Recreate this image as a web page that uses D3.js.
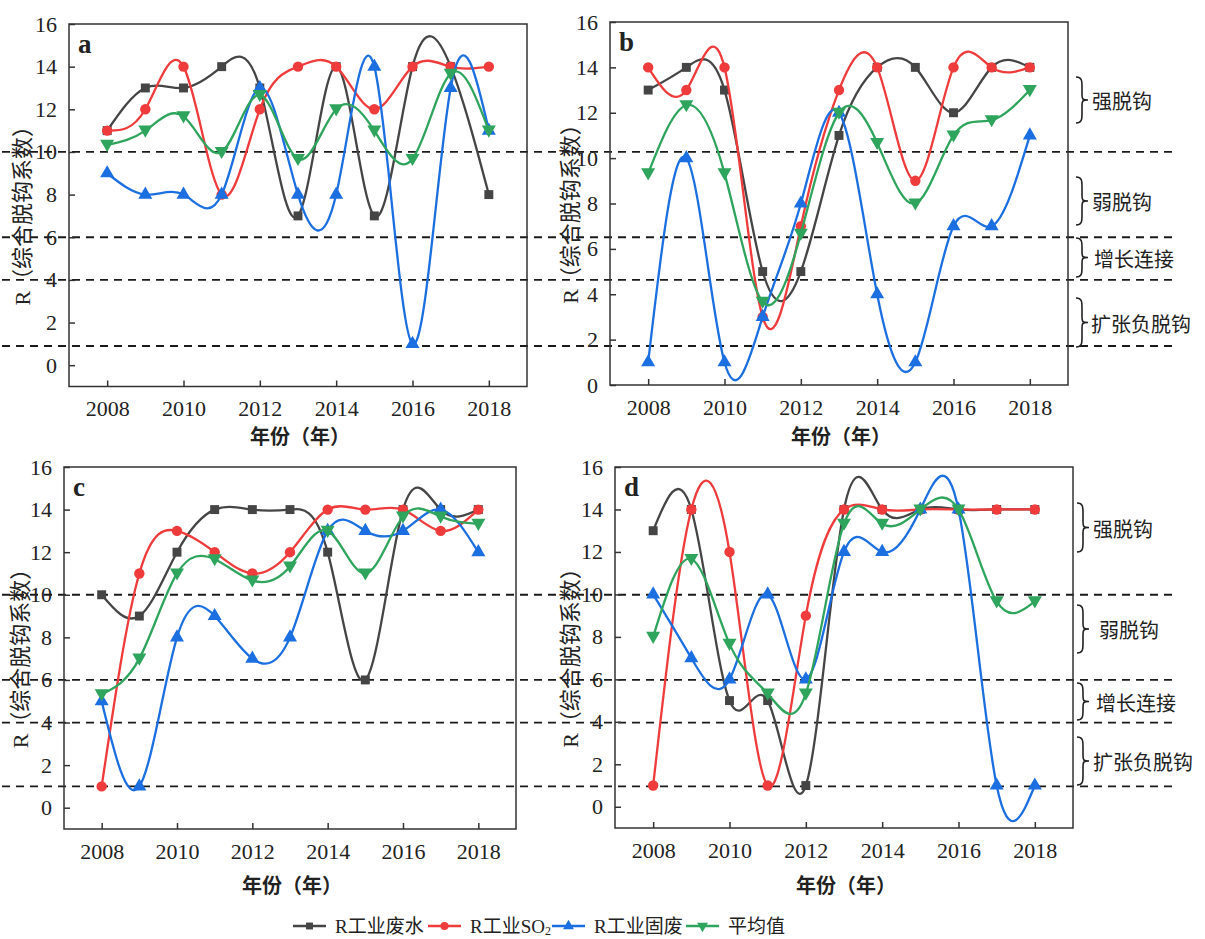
<!DOCTYPE html>
<html>
<head>
<meta charset="utf-8">
<script src="https://cdn.jsdelivr.net/npm/d3@7"></script>
<style>
  body { margin: 0; background: #fff; }
  svg { display: block; }
  text { fill: #222; }
</style>
</head>
<body>
<svg id="chart" width="1205" height="939"></svg>
<script>
// Years on the x axis
const years = [2008, 2009, 2010, 2011, 2012, 2013, 2014, 2015, 2016, 2017, 2018];
const xTicks = [2008, 2010, 2012, 2014, 2016, 2018];
const yTicks = [0, 2, 4, 6, 8, 10, 12, 14, 16];

// Panel a
const aWater = [11, 13, 13, 14, 13, 7, 14, 7, 14, 14, 8];
const aSO2   = [11, 12, 14, 8, 12, 14, 14, 12, 14, 14, 14];
const aSolid = [9, 8, 8, 8, 13, 8, 8, 14, 1, 13, 11];
const aMean  = [10.33, 11, 11.67, 10, 12.67, 9.67, 12, 11, 9.67, 13.67, 11];

// Panel b
const bWater = [13, 14, 13, 5, 5, 11, 14, 14, 12, 14, 14];
const bSO2   = [14, 13, 14, 3, 7, 13, 14, 9, 14, 14, 14];
const bSolid = [1, 10, 1, 3, 8, 12, 4, 1, 7, 7, 11];
const bMean  = [9.33, 12.33, 9.33, 3.67, 6.67, 12, 10.67, 8, 11, 11.67, 13];

// Panel c
const cWater = [10, 9, 12, 14, 14, 14, 12, 6, 14, 14, 14];
const cSO2   = [1, 11, 13, 12, 11, 12, 14, 14, 14, 13, 14];
const cSolid = [5, 1, 8, 9, 7, 8, 13, 13, 13, 14, 12];
const cMean  = [5.33, 7, 11, 11.67, 10.67, 11.33, 13, 11, 13.67, 13.67, 13.33];

// Panel d
const dWater = [13, 14, 5, 5, 1, 14, 14, 14, 14, 14, 14];
const dSO2   = [1, 14, 12, 1, 9, 14, 14, 14, 14, 14, 14];
const dSolid = [10, 7, 6, 10, 6, 12, 12, 14, 14, 1, 1];
const dMean  = [8, 11.67, 7.67, 5.33, 5.33, 13.33, 13.33, 14, 14, 9.67, 9.67];

// Series names and the decoupling classes
const seriesNames = ["R工业废水", "R工业SO", "R工业固废", "平均值"];
const classNames = ["强脱钩", "弱脱钩", "增长连接", "扩张负脱钩"];
const thresholdsTop = [10, 6, 4, 0.9];
const thresholdsBottom = [10, 6, 4, 1];

const SERIF = "Liberation Serif, Noto Sans CJK SC, serif";
const colors = ["#454545", "#ef3b3b", "#1b6fe0", "#2ea45c"];
const symbols = [d3.symbolSquare, d3.symbolCircle, d3.symbolTriangle, d3.symbolTriangle];
const symbolSizes = [80, 85, 85, 85];
const symbolRot = [0, 0, 0, 180];

const svg = d3.select("#chart").attr("font-family", SERIF);

const panels = [
  { id: "a", left: 69,  right: 527,  top: 24,  bottom: 386.5, ymin: -1, data: [aWater, aSO2, aSolid, aMean], ylab: 22,  xtitle: 437 },
  { id: "b", left: 610, right: 1068, top: 22,  bottom: 385,   ymin: 0,  data: [bWater, bSO2, bSolid, bMean], ylab: 570, xtitle: 437 },
  { id: "c", left: 64,  right: 516,  top: 467, bottom: 829,   ymin: -1, data: [cWater, cSO2, cSolid, cMean], ylab: 20,  xtitle: 886 },
  { id: "d", left: 615, right: 1073, top: 467, bottom: 828,   ymin: -1, data: [dWater, dSO2, dSolid, dMean], ylab: 570, xtitle: 886 }
];

panels.forEach(p => {
  p.x = d3.scaleLinear().domain([2007, 2019]).range([p.left, p.right]);
  p.y = d3.scaleLinear().domain([p.ymin, 16]).range([p.bottom, p.top]);
});

// Dashed class boundaries across each row
function thresholdRow(scale, values, x0, x1) {
  svg.append("g").selectAll("line").data(values).join("line")
    .attr("x1", x0).attr("x2", x1)
    .attr("y1", d => scale(d)).attr("y2", d => scale(d))
    .attr("stroke", "#1a1a1a").attr("stroke-width", 1.8)
    .attr("stroke-dasharray", "8,6");
}
thresholdRow(panels[0].y, thresholdsTop, 2, 1174);
thresholdRow(panels[2].y, thresholdsBottom, 2, 1178);

panels.forEach(p => {
  const g = svg.append("g");

  // Frame
  g.append("rect")
    .attr("x", p.left).attr("y", p.top)
    .attr("width", p.right - p.left).attr("height", p.bottom - p.top)
    .attr("fill", "none").attr("stroke", "#333").attr("stroke-width", 1.5);

  // Axes with inward ticks
  const xAxis = d3.axisBottom(p.x).tickValues(xTicks).tickFormat(d3.format("d"))
    .tickSizeInner(-6).tickSizeOuter(0).tickPadding(14);
  const yAxis = d3.axisLeft(p.y).tickValues(yTicks)
    .tickSizeInner(-6).tickSizeOuter(0).tickPadding(12);

  const gx = g.append("g").attr("transform", `translate(0,${p.bottom})`).call(xAxis);
  const gy = g.append("g").attr("transform", `translate(${p.left},0)`).call(yAxis);
  [gx, gy].forEach(ax => {
    ax.attr("font-family", "Liberation Serif").attr("font-size", 22);
    ax.select(".domain").remove();
    ax.selectAll(".tick line").attr("stroke", "#333").attr("stroke-width", 1.5);
    ax.selectAll(".tick text").attr("fill", "#222");
  });

  // Axis titles
  g.append("text")
    .attr("transform", `translate(${p.ylab},${(p.top + p.bottom) / 2 + 5}) rotate(-90)`)
    .attr("text-anchor", "middle").attr("dominant-baseline", "central")
    .attr("font-size", 22)
    .text("R（综合脱钩系数）");
  g.append("text")
    .attr("x", (p.left + p.right) / 2 + 2).attr("y", p.xtitle)
    .attr("text-anchor", "middle").attr("dominant-baseline", "central")
    .attr("font-size", 20).attr("font-weight", "bold")
    .text("年份（年）");

  // Panel letter
  g.append("text")
    .attr("x", p.left + 9).attr("y", p.top + 29)
    .attr("font-size", 27).attr("font-weight", "bold")
    .text(p.id);

  // Series lines and markers
  p.data.forEach((vals, i) => {
    const pts = years.map((yr, k) => [yr, vals[k]]);
    const line = d3.line().x(d => p.x(d[0])).y(d => p.y(d[1])).curve(d3.curveNatural);
    g.append("path").datum(pts)
      .attr("d", line).attr("fill", "none")
      .attr("stroke", colors[i]).attr("stroke-width", 2.3);
    g.append("g").selectAll("path").data(pts).join("path")
      .attr("d", d3.symbol().type(symbols[i]).size(symbolSizes[i]))
      .attr("transform", d => `translate(${p.x(d[0])},${p.y(d[1]) + (i === 3 ? -1 : 0)}) rotate(${symbolRot[i]})`)
      .attr("fill", colors[i]);
  });
});

// Curly brace path: vertical from y0 to y1, tip pointing right
function bracePath(x, y0, y1, w) {
  const m = (y0 + y1) / 2;
  const q = w * 0.5;
  return `M${x},${y0} C${x + q},${y0} ${x + q},${y0 + 4} ${x + q},${y0 + 10}` +
         ` L${x + q},${m - 6} C${x + q},${m - 1} ${x + q},${m} ${x + w},${m}` +
         ` C${x + q},${m} ${x + q},${m + 1} ${x + q},${m + 6}` +
         ` L${x + q},${y1 - 10} C${x + q},${y1 - 4} ${x + q},${y1} ${x},${y1}`;
}

const braceRows = [
  { x: 1076, spans: [[77, 123], [177, 225], [238, 277], [298, 347]], tx: [1092, 1092, 1094, 1091] },
  { x: 1077, spans: [[503, 552], [605, 653], [683, 720], [737, 785]], tx: [1093, 1099, 1096, 1093] }
];
braceRows.forEach(r => {
  r.spans.forEach((s, k) => {
    svg.append("path").attr("d", bracePath(r.x, s[0], s[1], 12))
      .attr("fill", "none").attr("stroke", "#222").attr("stroke-width", 1.6);
    svg.append("text").attr("x", r.tx[k]).attr("y", (s[0] + s[1]) / 2 + 2)
      .attr("dominant-baseline", "central").attr("font-size", 20)
      .text(classNames[k]);
  });
});

// Legend
const legendX = [293, 428, 552, 686];
const legend = svg.append("g").attr("transform", "translate(0,926)");
seriesNames.forEach((name, i) => {
  const lg = legend.append("g").attr("transform", `translate(${legendX[i]},0)`);
  lg.append("line").attr("x1", 0).attr("x2", 33).attr("y1", 0).attr("y2", 0)
    .attr("stroke", colors[i]).attr("stroke-width", 2.3);
  lg.append("path").attr("d", d3.symbol().type(symbols[i]).size(symbolSizes[i] * 0.6))
    .attr("transform", `translate(16.5,0) rotate(${symbolRot[i]})`).attr("fill", colors[i]);
  const t = lg.append("text").attr("x", 42).attr("y", 0)
    .attr("dominant-baseline", "central").attr("font-size", 19).text(name);
  if (i === 1) {
    t.append("tspan").attr("font-size", 12).attr("dy", 5).text("2");
  }
});
</script>
</body>
</html>
